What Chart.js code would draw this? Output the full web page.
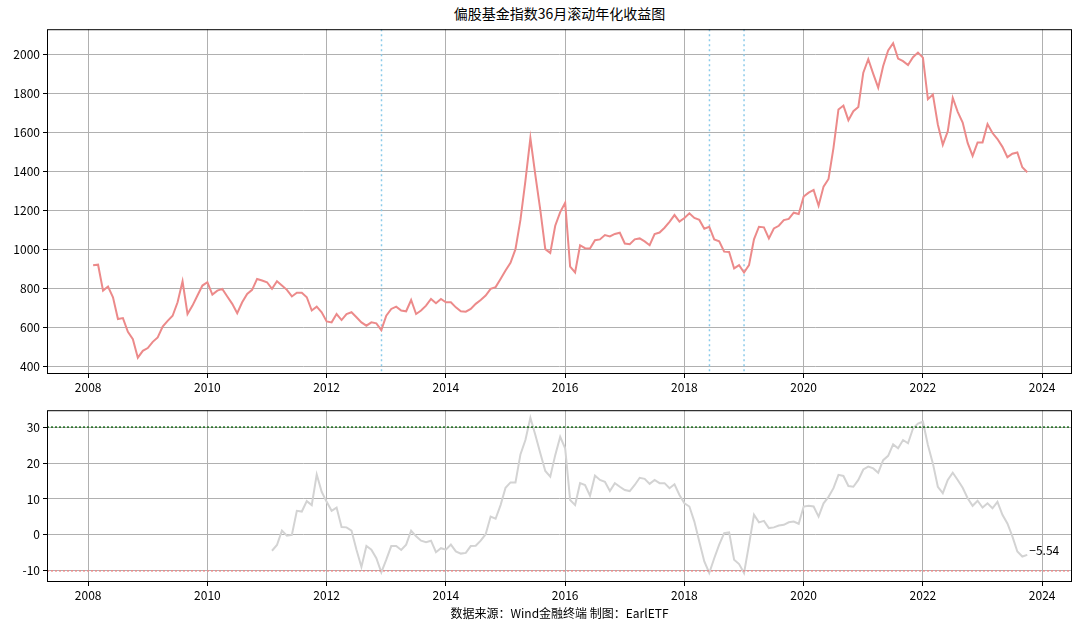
<!DOCTYPE html>
<html><head><meta charset="utf-8">
<script src="https://cdn.jsdelivr.net/npm/chart.js@4"></script>
<style>
body{margin:0;width:1080px;height:630px;background:#fff;position:relative;overflow:hidden;font-family:"Noto Sans CJK SC",sans-serif}
#t{position:absolute;top:3px;left:47px;width:1025px;text-align:center;font-size:14px;color:#000}
#s{position:absolute;top:604px;left:47px;width:1025px;text-align:center;font-size:12px;color:#000}
canvas{position:absolute;left:0}
</style></head><body>
<div id="t">偏股基金指数36月滚动年化收益图</div>
<canvas id="c1" style="top:19px"></canvas>
<canvas id="c2" style="top:400px"></canvas>
<div id="s">数据来源：Wind金融终端 制图：EarlETF</div>
<script>
// top series: monthly, starting Feb 2008
const indexStart = 2008 + 1/12;
const indexValues = [
917,920,787,808,753,641,646,576,538,443,478,
492,524,547,603,632,658,727,835,667,710,762,813,
830,767,787,796,757,719,671,727,770,791,847,839,
830,796,835,813,791,757,776,776,753,685,705,676,
629,624,667,636,667,676,650,624,607,624,619,584,
658,693,705,685,681,739,667,685,710,744,722,744,
727,727,701,681,679,693,719,739,762,796,805,847,
890,930,1000,1150,1350,1570,1380,1200,1000,980,1120,1190,
1238,910,880,1020,1005,1003,1046,1050,1072,1065,1078,1084,
1029,1025,1050,1055,1040,1020,1077,1085,1110,1140,1175,1141,
1160,1184,1160,1150,1105,1115,1050,1040,987,985,901,918,
880,918,1050,1115,1112,1055,1106,1120,1149,1155,1187,1180,
1270,1290,1304,1223,1321,1360,1520,1717,1737,1662,1708,1730,
1906,1975,1900,1829,1940,2020,2057,1978,1965,1945,1985,2009,
1983,1770,1794,1640,1536,1605,1777,1705,1650,1545,1479,1548,
1548,1642,1596,1565,1525,1472,1490,1496,1420,1395];
// bottom series: 36-month rolling annualised return (%), monthly, starting Feb 2011
const rollStart = 2011 + 1/12;
const rollValues = [
-4.4,-2.8,1.2,-0.2,0,6.7,6.5,9.4,8.3,16.8,12,
9.2,6.7,7.6,2.2,2.1,1.2,-4.1,-8.9,-3.1,-4.1,-6.5,-10.4,
-6.9,-3.1,-3.1,-4.2,-2.7,1.2,-0.4,-1.6,-2.0,-1.6,-4.8,-3.7,
-4.1,-2.7,-4.6,-5.2,-5.0,-3.1,-3.0,-1.6,0.2,5.1,4.5,8.3,
13.1,14.6,14.6,22.4,26.4,32.6,27.8,22.7,17.8,16.2,22.2,27.3,
24.1,9.7,8.3,14.4,13.9,10.9,16.5,15.3,14.8,12.2,14.4,13.4,
12.5,12.2,13.9,15.9,15.6,14.2,15.3,14.4,14.4,13.0,14.1,11.1,
8.8,7.9,3.7,-1.9,-7.4,-10.6,-6.5,-2.7,0.5,0.7,-6.9,-8.1,
-10.6,-2.7,5.6,3.5,3.9,1.9,2.1,2.6,2.8,3.5,3.7,3.1,
7.9,8.1,7.9,5.1,8.8,10.6,13.0,16.7,16.4,13.6,13.4,15.3,
18.2,19.0,18.5,17.3,20.8,22.0,25.2,24.1,26.4,25.5,29.6,31.0,
31.5,25.0,19.9,13.4,11.6,15.3,17.3,15.3,13.1,10.2,8.1,9.5,
7.6,8.8,7.4,9.2,5.6,3.2,-0.4,-4.6,-6.0,-5.54];
const xTicks = [2008,2010,2012,2014,2016,2018,2020,2022,2024];
const topYTicks = [400,600,800,1000,1200,1400,1600,1800,2000];
const botYTicks = [-10,0,10,20,30];
const markerDates = [2012.92, 2018.42, 2019.0];
const upperBand = 30, lowerBand = -10;

const toPts = (start, arr) => arr.map((v,i)=>({x:start+i/12,y:v}));
const FONT = {family:'"Noto Sans CJK SC", sans-serif', size:12};

const frame = {id:'frame', afterDraw(c){const a=c.chartArea,g=c.ctx;g.save();g.strokeStyle='#000';g.lineWidth=1;g.strokeRect(a.left+0.5,a.top+0.5,a.right-a.left-1,a.bottom-a.top-1);g.restore();}};

function xScale(){return {type:'linear',min:2007.31,max:2024.5,
  afterBuildTicks(s){s.ticks=xTicks.map(v=>({value:v}));},
  afterFit(s){s.height=26;},
  grid:{color:'#b0b0b0',lineWidth:1,tickLength:4,tickColor:'#000'},border:{display:false},
  ticks:{color:'#000',font:FONT,maxRotation:0,callback:v=>String(v),padding:2}};}
function yScale(min,max,ticks){return {type:'linear',min,max,
  afterBuildTicks(s){s.ticks=ticks.map(v=>({value:v}));},
  afterFit(s){s.width=47;},
  grid:{color:'#b0b0b0',lineWidth:1,tickLength:4,tickColor:'#000'},border:{display:false},
  ticks:{color:'#000',font:FONT,padding:3,callback:v=>String(v)}};}

const c1=document.getElementById('c1');c1.width=1080;c1.height=381;c1.style.width='1080px';c1.style.height='381px';
new Chart(c1,{type:'line',
 data:{datasets:[{data:toPts(indexStart,indexValues),borderColor:'#ec8a8a',borderWidth:2,pointRadius:0,tension:0}]},
 options:{responsive:false,animation:false,layout:{padding:{top:5,right:8,left:0,bottom:0}},
  plugins:{legend:{display:false},tooltip:{enabled:false}},
  scales:{x:xScale(),y:yScale(359,2129,topYTicks)}},
 plugins:[frame,{id:'vlines',beforeDatasetsDraw(c){const g=c.ctx,a=c.chartArea,x=c.scales.x;g.save();g.strokeStyle='#8ccbea';g.lineWidth=1.5;g.setLineDash([2,3]);
   markerDates.forEach(d=>{const px=x.getPixelForValue(d);g.beginPath();g.moveTo(px,a.top);g.lineTo(px,a.bottom);g.stroke();});g.restore();}}]});

const c2=document.getElementById('c2');c2.width=1080;c2.height=208;c2.style.width='1080px';c2.style.height='208px';
new Chart(c2,{type:'line',
 data:{datasets:[{data:toPts(rollStart,rollValues),borderColor:'#d3d3d3',borderWidth:2,pointRadius:0,tension:0}]},
 options:{responsive:false,animation:false,layout:{padding:{top:5,right:8,left:0,bottom:0}},
  plugins:{legend:{display:false},tooltip:{enabled:false}},
  scales:{x:xScale(),y:yScale(-13.1,34.7,botYTicks)}},
 plugins:[frame,{id:'bands',afterDatasetsDraw(c){const g=c.ctx,a=c.chartArea,y=c.scales.y,x=c.scales.x;g.save();g.lineWidth=1.5;g.setLineDash([2,2]);
   [[upperBand,'#1a6b1a'],[lowerBand,'#ec8a8a']].forEach(([v,col])=>{const py=y.getPixelForValue(v);g.strokeStyle=col;g.beginPath();g.moveTo(a.left,py);g.lineTo(a.right,py);g.stroke();});
   g.setLineDash([]);const n=rollValues.length-1,last=rollValues[n];g.fillStyle='#000';g.font='12px "Noto Sans CJK SC"';g.textBaseline='middle';
   g.fillText(last.toFixed(2).replace('-','−'),x.getPixelForValue(rollStart+n/12)+2,y.getPixelForValue(last)-4);g.restore();}}]});
</script></body></html>
